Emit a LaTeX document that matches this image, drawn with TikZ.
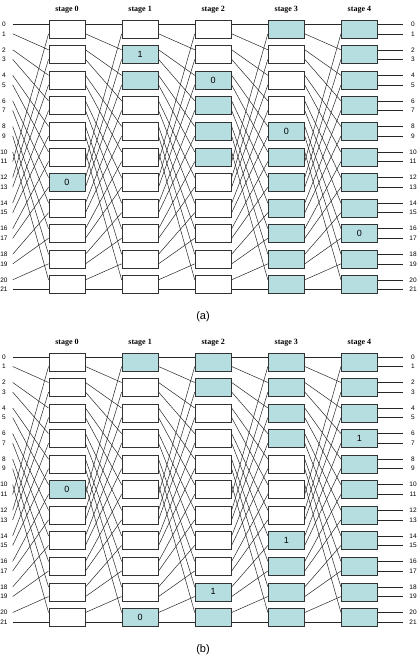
\documentclass[tikz,border=0pt]{standalone}
\usepackage{fontspec}
\setmainfont{Liberation Serif}
\setsansfont{Liberation Sans}

\definecolor{hitblue}{RGB}{182,221,224}

\tikzset{
  box/.style={draw=black!80, fill=white, minimum width=36.5pt, minimum height=18pt,
    inner sep=0pt, font=\sffamily\fontsize{9}{9}\selectfont},
  stw/.style={},
  sts/.style={fill=hitblue},
  st0/.style={fill=hitblue},
  st1/.style={fill=hitblue},
  wire/.style={draw=black!85, line width=0.5pt},
  portlbl/.style={font=\sffamily\fontsize{6.5}{7}\selectfont, inner sep=0pt},
  stagelbl/.style={font=\bfseries\fontsize{8}{9}\selectfont, inner sep=0pt},
  caption/.style={font=\sffamily\fontsize{11}{12}\selectfont}
}

\newcommand\boxtext[1]{\if w#1\else\if s#1\else #1\fi\fi}

% #1 name, #2 shift down, #3 rows of boxes, #4 caption
\newcommand\network[4]{%
\begin{scope}[yshift=-#2pt]
  % Stages and boxes
  \foreach \row [count=\s from 0] in {#3} {
    \node[stagelbl] (#1t\s) at (67+73.1*\s, 10) {stage \s};
    \foreach \c [count=\b from 0] in \row
      \node[box, st\c] (#1\s-\b) at (67+73.1*\s, 29+25.56*\b) {\boxtext{\c}};
  }

  % Inputs and outputs
  \foreach \p in {0,...,21} {
    \pgfmathsetmacro\py{29+25.56*div(\p,2)+(mod(\p,2)==0 ? -4.8 : 4.8)}
    \pgfmathtruncatemacro\q{\p==21 ? 21 : mod(2*\p,21)}
    \pgfmathtruncatemacro\bq{div(\q,2)}
    \pgfmathtruncatemacro\bp{div(\p,2)}
    \pgfmathsetmacro\yq{mod(\q,2)==0 ? 4.8 : -4.8}
    \pgfmathsetmacro\yp{mod(\p,2)==0 ? 4.8 : -4.8}
    \node[portlbl] (#1i\p) at (4, \py) {\p};
    \node[portlbl] (#1o\p) at (413, \py) {\p};
    \coordinate (#1l\p) at (12.7, \py);
    \coordinate (#1r\p) at (403.3, \py);
    \draw[wire] (#1l\p) -- ([yshift=\yq pt]#10-\bq.west);
    \draw[wire] ([yshift=\yp pt]#14-\bp.east) -- (#1r\p);
  }

  % Shuffle between stages
  \foreach \g in {0,...,3}
    \foreach \p in {0,...,21} {
      \pgfmathtruncatemacro\h{\g+1}
      \pgfmathtruncatemacro\q{\p==21 ? 21 : mod(2*\p,21)}
      \pgfmathtruncatemacro\bq{div(\q,2)}
      \pgfmathtruncatemacro\bp{div(\p,2)}
      \pgfmathsetmacro\yq{mod(\q,2)==0 ? 4.8 : -4.8}
      \pgfmathsetmacro\yp{mod(\p,2)==0 ? 4.8 : -4.8}
      \draw[wire] ([yshift=\yp pt]#1\g-\bp.east) -- ([yshift=\yq pt]#1\h-\bq.west);
    }

  % Caption
  \node[caption] (#1cap) at (203, 317) {#4};
\end{scope}}

\begin{document}
\begin{tikzpicture}[x=1pt, y=-1pt]
  \useasboundingbox (0,0) rectangle (420,659);

  \network{a}{0}{{w,w,w,w,w,w,0,w,w,w,w},
                {w,1,s,w,w,w,w,w,w,w,w},
                {w,w,0,s,s,s,w,w,w,w,w},
                {s,w,w,w,0,s,s,s,s,s,s},
                {s,s,s,s,s,s,s,s,0,s,s}}{(a)}

  \network{b}{332.7}{{w,w,w,w,w,0,w,w,w,w,w},
                    {s,w,w,w,w,w,w,w,w,w,0},
                    {s,s,w,w,w,w,w,w,w,1,s},
                    {s,s,s,s,w,w,w,1,s,s,s},
                    {s,s,s,1,s,s,s,s,s,s,s}}{(b)}
\end{tikzpicture}
\end{document}
